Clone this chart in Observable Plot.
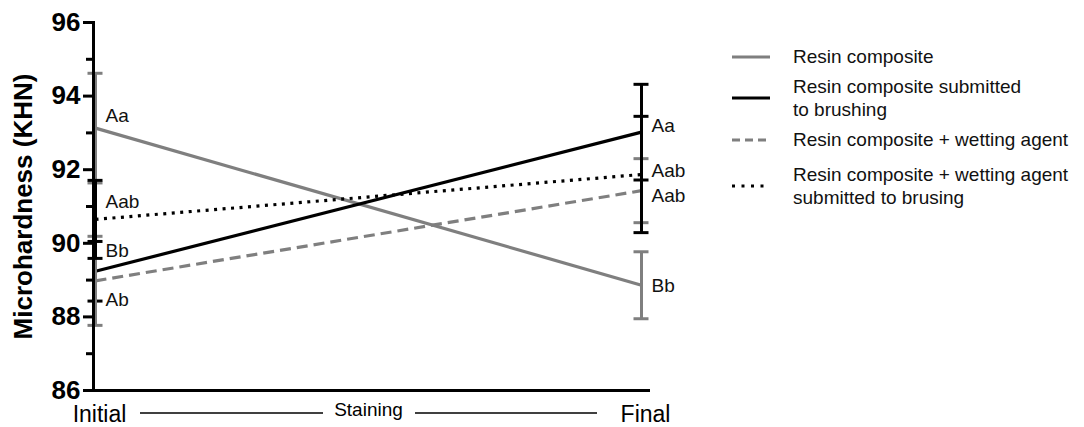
<!DOCTYPE html>
<html>
<head>
<meta charset="utf-8">
<script src="https://cdn.jsdelivr.net/npm/d3@7"></script>
<script src="https://cdn.jsdelivr.net/npm/@observablehq/plot@0.6"></script>
<style>
  html, body { margin: 0; padding: 0; background: #fff; }
  #wrap { position: relative; width: 1084px; height: 427px; font-family: "Liberation Sans", Arial, sans-serif; }
  #legend { position: absolute; left: 732px; top: 45px; font-size: 19px; color: #111; }
  .row { display: flex; align-items: center; }
  .row svg { flex: none; margin-right: 23px; }
  .row div { line-height: 23px; }
</style>
</head>
<body>
<div id="wrap"><div id="legend"></div></div>
<script>
// ---- data ----
const timepoints = ["Initial", "Final"];
const processLabel = "Staining";
const groups = [
  "Resin composite",
  "Resin composite submitted to brushing",
  "Resin composite + wetting agent",
  "Resin composite + wetting agent submitted to brusing"
];
const legendLines = [
  ["Resin composite"],
  ["Resin composite submitted", "to brushing"],
  ["Resin composite + wetting agent"],
  ["Resin composite + wetting agent", "submitted to brusing"]
];
const meanInitial = [93.13, 89.24, 88.98, 90.65];
const meanFinal   = [88.86, 93.02, 91.43, 91.87];
const errInitial  = [1.49, 0.81, 1.21, 1.06];
const errFinal    = [0.91, 1.30, 0.87, 1.58];
const lettersInitial = ["Aa", "Bb", "Ab", "Aab"];
const lettersFinal   = ["Bb", "Aa", "Aab", "Aab"];
// letter anchor values (KHN units)
const letterAtInitial = [93.47, 89.78, 88.47, 91.12];
const letterAtFinal   = [88.85, 93.20, 91.30, 91.98];
const majorTicks = [86, 88, 90, 92, 94, 96];
const minorTicks = [87, 89, 91, 93, 95];
const yTitle = "Microhardness (KHN)";

// ---- styles ----
const GRAY = "#7f7f7f";
const styles = [
  {stroke: GRAY, dash: null},
  {stroke: "#000", dash: null},
  {stroke: GRAY, dash: "11,6"},
  {stroke: "#000", dash: "3,5.5"}
];
const FONT = "'Liberation Sans', Arial, sans-serif";

const rows = groups.flatMap((g, i) => timepoints.map((tp, j) => ({
  group: g, gi: i, t: j,
  mean: j ? meanFinal[i] : meanInitial[i],
  err: j ? errFinal[i] : errInitial[i],
  letter: j ? lettersFinal[i] : lettersInitial[i],
  letterY: j ? letterAtFinal[i] : letterAtInitial[i]
})));
const of = gi => rows.filter(d => d.gi === gi);

const lineMarks = groups.map((g, i) => Plot.line(of(i), {
  x: "t", y: "mean", stroke: styles[i].stroke, strokeWidth: 3.2,
  strokeDasharray: styles[i].dash, strokeLinecap: "butt"
}));
const barMarks = groups.flatMap((g, i) => [
  Plot.ruleX(of(i), {x: "t", y1: d => d.mean - d.err, y2: d => d.mean + d.err, stroke: styles[i].stroke, strokeWidth: 3}),
  Plot.ruleY(of(i), {x1: "t", x2: "t", y: d => d.mean - d.err, stroke: styles[i].stroke, strokeWidth: 3, insetLeft: -7.5, insetRight: -7.5}),
  Plot.ruleY(of(i), {x1: "t", x2: "t", y: d => d.mean + d.err, stroke: styles[i].stroke, strokeWidth: 3, insetLeft: -7.5, insetRight: -7.5})
]);

const chart = Plot.plot({
  width: 1084, height: 427,
  marginTop: 22, marginBottom: 37, marginLeft: 93, marginRight: 436,
  style: {fontFamily: FONT, background: "transparent", color: "#000"},
  x: {domain: [0, timepoints.length - 1], insetLeft: 2, insetRight: 7},
  y: {domain: [86, 96]},
  marks: [
    Plot.axisY({ticks: minorTicks, tickSize: 7, strokeWidth: 3, tickFormat: () => "", label: null}),
    Plot.axisY({ticks: majorTicks, tickSize: 10, strokeWidth: 3, tickPadding: 3, fontSize: 26, fontWeight: "bold", label: null}),
    Plot.axisX({ticks: timepoints.map((d, i) => i), tickFormat: i => timepoints[i], tickSize: 0, tickPadding: 15, fontSize: 23, dx: 4, label: null}),
    Plot.text([processLabel], {x: (timepoints.length - 1) / 2, text: d => d, frameAnchor: "bottom", dy: 25, fontSize: 19}),
    Plot.text([yTitle], {text: d => d, frameAnchor: "left", textAnchor: "middle", rotate: -90, dx: -70, fontSize: 26, fontWeight: "bold"}),
    ...lineMarks,
    ...barMarks,
    Plot.frame({anchor: "left", strokeWidth: 3, strokeLinecap: "square"}),
    Plot.frame({anchor: "bottom", strokeWidth: 3, strokeLinecap: "square"}),
    Plot.text(rows, {x: "t", y: "letterY", text: "letter", textAnchor: "start", dx: 10, fontSize: 19, fill: "#111"})
  ]
});
document.getElementById("wrap").prepend(chart);

// connector lines around the process label, positioned from the x scale
const xs = chart.scale("x");
const svg = d3.select(chart);
const mid = (timepoints.length - 1) / 2;
const yLine = 390 + 23;
[[xs.apply(0) + 45, xs.apply(mid) - 45], [xs.apply(mid) + 47, xs.apply(timepoints.length - 1) - 44]].forEach(([a, b]) => {
  svg.append("line").attr("x1", a).attr("x2", b).attr("y1", yLine).attr("y2", yLine)
    .attr("stroke", "#000").attr("stroke-width", 1.3);
});

// legend
const legend = d3.select("#legend");
const gaps = [7, 7, 12, 0];
legendLines.forEach((lines, i) => {
  const row = legend.append("div").attr("class", "row").style("margin-bottom", gaps[i] + "px");
  const s = row.append("svg").attr("width", 38).attr("height", 10);
  s.append("line").attr("x1", 0).attr("x2", 38).attr("y1", 5).attr("y2", 5)
    .attr("stroke", styles[i].stroke).attr("stroke-width", 3)
    .attr("stroke-dasharray", i === 2 ? "8,5" : i === 3 ? "3,6.5" : null);
  row.append("div").html(lines.join("<br>"));
});
</script>
</body>
</html>
